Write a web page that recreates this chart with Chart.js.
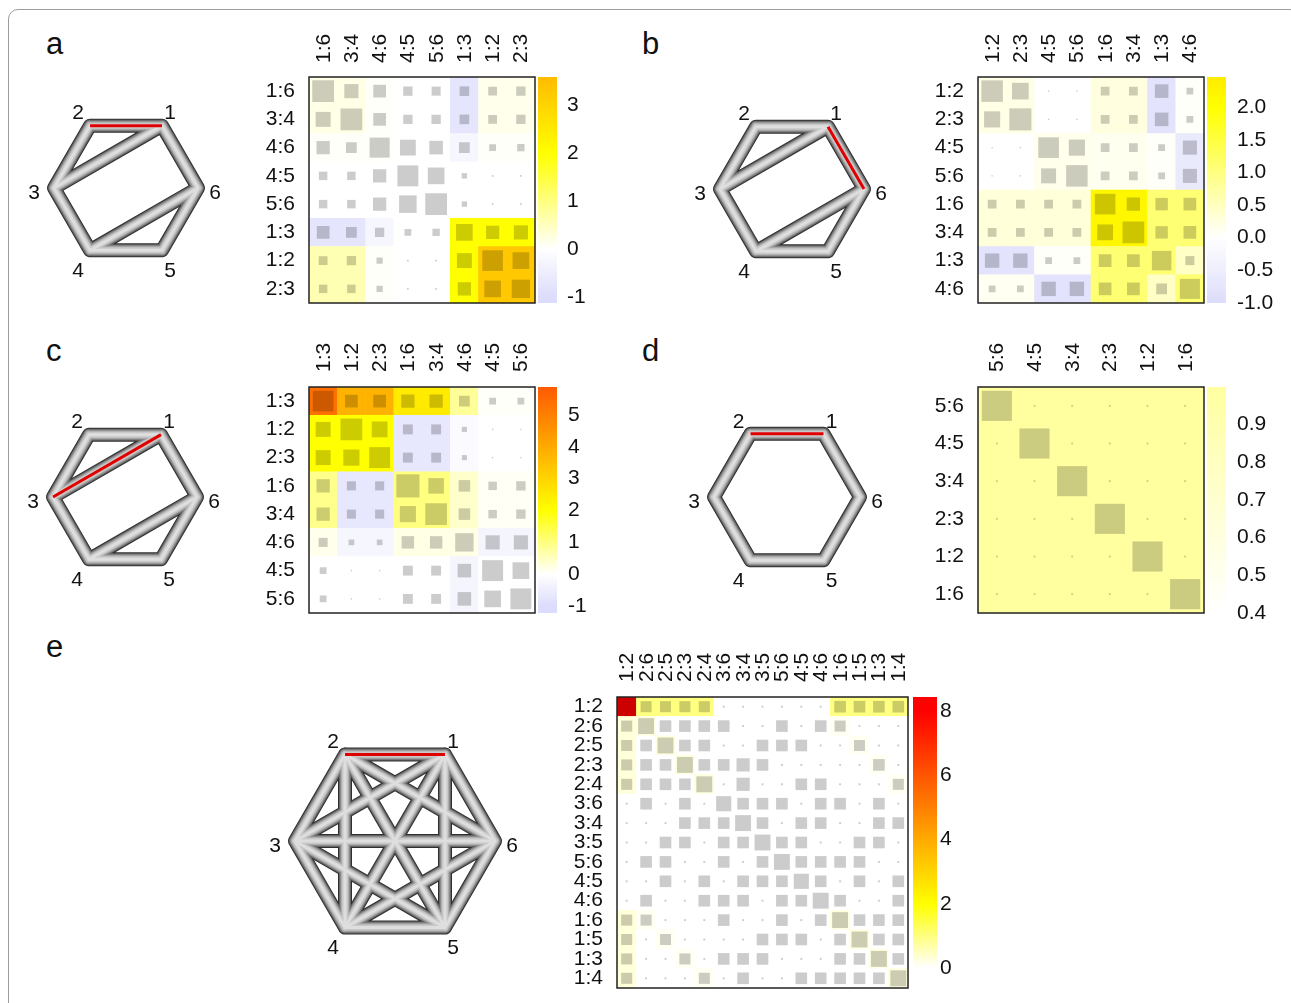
<!DOCTYPE html>
<html>
<head>
<meta charset="utf-8">
<script src="https://cdn.jsdelivr.net/npm/chart.js@4.4.0/dist/chart.umd.min.js"></script>
<style>
body{margin:0;background:#fff;width:1291px;height:1003px;overflow:hidden;position:relative;font-family:"Liberation Sans",Arial,Helvetica,sans-serif;}
.frame{position:absolute;left:8px;top:9px;width:1290px;height:1030px;border:1px solid #9c9c9c;border-radius:10px;}
.tag{position:absolute;font-size:31px;line-height:31px;color:#111;}
canvas{position:absolute;}
</style>
</head>
<body>
<div class="frame"></div>
<div class="tag" style="left:46px;top:28px">a</div>
<div class="tag" style="left:642px;top:28px">b</div>
<div class="tag" style="left:46px;top:335px">c</div>
<div class="tag" style="left:642px;top:335px">d</div>
<div class="tag" style="left:46px;top:631px">e</div>

<canvas id="ga" width="230" height="230" style="left:11px;top:73px"></canvas>
<canvas id="gb" width="230" height="230" style="left:677px;top:74px"></canvas>
<canvas id="gc" width="230" height="230" style="left:10px;top:382px"></canvas>
<canvas id="gd" width="230" height="230" style="left:672px;top:382px"></canvas>
<canvas id="ge" width="290" height="290" style="left:250px;top:696px"></canvas>

<canvas id="ha" width="366" height="314" style="left:249px;top:5px"></canvas>
<canvas id="hb" width="366" height="314" style="left:918px;top:5px"></canvas>
<canvas id="hc" width="366" height="314" style="left:249px;top:315px"></canvas>
<canvas id="hd" width="366" height="314" style="left:918px;top:315px"></canvas>
<canvas id="he" width="431" height="379" style="left:557px;top:625px"></canvas>

<script>
// ---- graph data (hexagon nodes 1..6) ----
const nodeIds = ['1','2','3','4','5','6'];
const nodeX = [0.5, -0.5, -1, -0.5, 0.5, 1];
const nodeY = [0.866, 0.866, 0, -0.866, -0.866, 0];

const edgesABC = [[1,2],[2,3],[3,4],[4,5],[5,6],[6,1],[1,3],[4,6]];
const edgesD = [[1,2],[2,3],[3,4],[4,5],[5,6],[6,1]];
const edgesE = [[1,2],[1,3],[1,4],[1,5],[1,6],[2,3],[2,4],[2,5],[2,6],[3,4],[3,5],[3,6],[4,5],[4,6],[5,6]];

// ---- matrix data ----
const labelsA = ['1:6','3:4','4:6','4:5','5:6','1:3','1:2','2:3'];
const colourA = [
  [0.2, 0.2, 0.05, 0, 0, -0.75, 0.15, 0.15],
  [0.2, 0.2, 0.05, 0, 0, -0.75, 0.15, 0.15],
  [0.05, 0.05, 0.05, 0, 0, -0.25, 0.05, 0.05],
  [0, 0, 0, 0, 0, 0, 0, 0],
  [0, 0, 0, 0, 0, 0, 0, 0],
  [-0.75, -0.75, -0.25, 0, 0, 2.0, 2.0, 2.0],
  [0.6, 0.6, 0.05, 0, 0, 2.0, 3.3, 3.3],
  [0.6, 0.6, 0.05, 0, 0, 2.0, 3.3, 3.3]
];
const sizeA = [
  [0.77, 0.50, 0.45, 0.33, 0.32, 0.34, 0.31, 0.33],
  [0.53, 0.77, 0.45, 0.33, 0.33, 0.34, 0.31, 0.33],
  [0.47, 0.38, 0.71, 0.56, 0.48, 0.38, 0.24, 0.26],
  [0.30, 0.30, 0.47, 0.74, 0.59, 0.19, 0.06, 0.06],
  [0.30, 0.30, 0.47, 0.62, 0.77, 0.19, 0.06, 0.06],
  [0.45, 0.38, 0.33, 0.24, 0.26, 0.59, 0.47, 0.50],
  [0.31, 0.33, 0.22, 0.06, 0.06, 0.53, 0.73, 0.59],
  [0.30, 0.30, 0.22, 0.06, 0.06, 0.47, 0.59, 0.65]
];
const ticksA = [-1, 0, 1, 2, 3];

const labelsB = ['1:2','2:3','4:5','5:6','1:6','3:4','1:3','4:6'];
const colourB = [
  [0.2, 0.2, 0, 0, 0.25, 0.25, -0.8, 0.05],
  [0.2, 0.2, 0, 0, 0.25, 0.25, -0.8, 0.05],
  [0, 0, 0.15, 0.15, 0.12, 0.12, 0.05, -0.6],
  [0, 0, 0.15, 0.15, 0.12, 0.12, 0.05, -0.6],
  [0.3, 0.3, 0.3, 0.3, 2.2, 2.2, 1.1, 1.1],
  [0.3, 0.3, 0.3, 0.3, 2.2, 2.2, 1.1, 1.1],
  [-0.8, -0.8, 0.05, 0.05, 1.1, 1.1, 1.1, 0.45],
  [0.1, 0.1, -0.8, -0.8, 1.1, 1.1, 0.45, 1.1]
];
const sizeB = [
  [0.76, 0.59, 0.05, 0.05, 0.31, 0.31, 0.48, 0.24],
  [0.57, 0.78, 0.05, 0.05, 0.31, 0.31, 0.48, 0.24],
  [0.05, 0.05, 0.73, 0.57, 0.31, 0.31, 0.24, 0.50],
  [0.05, 0.05, 0.53, 0.76, 0.31, 0.31, 0.24, 0.50],
  [0.31, 0.31, 0.31, 0.31, 0.73, 0.47, 0.44, 0.45],
  [0.31, 0.31, 0.31, 0.31, 0.56, 0.77, 0.44, 0.45],
  [0.51, 0.51, 0.24, 0.24, 0.45, 0.45, 0.69, 0.32],
  [0.24, 0.24, 0.51, 0.51, 0.45, 0.45, 0.38, 0.71]
];
const ticksB = [-1, -0.5, 0, 0.5, 1, 1.5, 2];

const labelsC = ['1:3','1:2','2:3','1:6','3:4','4:6','4:5','5:6'];
const colourC = [
  [5.4, 3.8, 3.8, 2.5, 2.5, 0.8, 0.05, 0.05],
  [2.0, 2.0, 2.0, -0.7, -0.7, -0.15, 0, 0],
  [2.0, 2.0, 2.0, -0.7, -0.7, -0.15, 0, 0],
  [0.9, -0.7, -0.7, 1.0, 1.0, 0.4, 0.08, 0.08],
  [0.9, -0.7, -0.7, 1.0, 1.0, 0.4, 0.08, 0.08],
  [0.15, -0.25, -0.25, 0.2, 0.2, 0.2, -0.3, -0.3],
  [0, 0, 0, 0, 0, -0.3, 0, 0],
  [0, 0, 0, 0, 0, -0.3, 0, 0]
];
const sizeC = [
  [0.73, 0.45, 0.45, 0.47, 0.47, 0.38, 0.24, 0.24],
  [0.53, 0.77, 0.56, 0.35, 0.35, 0.18, 0.05, 0.05],
  [0.53, 0.57, 0.74, 0.35, 0.35, 0.18, 0.05, 0.05],
  [0.47, 0.32, 0.32, 0.82, 0.55, 0.41, 0.30, 0.33],
  [0.47, 0.32, 0.32, 0.57, 0.77, 0.41, 0.30, 0.33],
  [0.32, 0.20, 0.20, 0.44, 0.44, 0.65, 0.50, 0.50],
  [0.24, 0.05, 0.05, 0.35, 0.35, 0.48, 0.74, 0.59],
  [0.24, 0.05, 0.05, 0.35, 0.35, 0.48, 0.59, 0.74]
];
const ticksC = [-1, 0, 1, 2, 3, 4, 5];

const labelsD = ['5:6','4:5','3:4','2:3','1:2','1:6'];
const colourD = [
  [1, 1, 1, 1, 1, 1],
  [1, 1, 1, 1, 1, 1],
  [1, 1, 1, 1, 1, 1],
  [1, 1, 1, 1, 1, 1],
  [1, 1, 1, 1, 1, 1],
  [1, 1, 1, 1, 1, 1]
];
const sizeD = [
  [0.80, 0.05, 0.05, 0.05, 0.05, 0.05],
  [0.05, 0.80, 0.05, 0.05, 0.05, 0.05],
  [0.05, 0.05, 0.80, 0.05, 0.05, 0.05],
  [0.05, 0.05, 0.05, 0.80, 0.05, 0.05],
  [0.05, 0.05, 0.05, 0.05, 0.80, 0.05],
  [0.05, 0.05, 0.05, 0.05, 0.05, 0.80]
];
const ticksD = [0.4, 0.5, 0.6, 0.7, 0.8, 0.9];

const labelsE = ['1:2','2:6','2:5','2:3','2:4','3:6','3:4','3:5','5:6','4:5','4:6','1:6','1:5','1:3','1:4'];
const colourE = [
  [8.3, 1, 1, 1, 1, 0, 0, 0, 0, 0, 0, 1, 1, 1, 1],
  [0.3, 0.25, 0, 0, 0, 0, 0, 0, 0, 0, 0, 0.1, 0, 0, 0],
  [0.3, 0, 0.25, 0, 0, 0, 0, 0, 0, 0, 0, 0, 0.1, 0, 0],
  [0.3, 0, 0, 0.25, 0, 0, 0, 0, 0, 0, 0, 0, 0, 0.1, 0],
  [0.3, 0, 0, 0, 0.25, 0, 0, 0, 0, 0, 0, 0, 0, 0, 0.1],
  [0, 0, 0, 0, 0, 0, 0, 0, 0, 0, 0, 0, 0, 0, 0],
  [0, 0, 0, 0, 0, 0, 0, 0, 0, 0, 0, 0, 0, 0, 0],
  [0, 0, 0, 0, 0, 0, 0, 0, 0, 0, 0, 0, 0, 0, 0],
  [0, 0, 0, 0, 0, 0, 0, 0, 0, 0, 0, 0, 0, 0, 0],
  [0, 0, 0, 0, 0, 0, 0, 0, 0, 0, 0, 0, 0, 0, 0],
  [0, 0, 0, 0, 0, 0, 0, 0, 0, 0, 0, 0, 0, 0, 0],
  [0.3, 0.1, 0, 0, 0, 0, 0, 0, 0, 0, 0, 0.25, 0, 0, 0],
  [0.3, 0, 0.1, 0, 0, 0, 0, 0, 0, 0, 0, 0, 0.25, 0, 0],
  [0.3, 0, 0, 0.1, 0, 0, 0, 0, 0, 0, 0, 0, 0, 0.25, 0],
  [0.3, 0, 0, 0, 0.1, 0, 0, 0, 0, 0, 0, 0, 0, 0, 0.25]
];
const sizeE = [
  [0.95, 0.57, 0.57, 0.57, 0.57, 0.1, 0.1, 0.1, 0.1, 0.1, 0.1, 0.6, 0.6, 0.6, 0.6],
  [0.57, 0.82, 0.6, 0.6, 0.6, 0.6, 0.1, 0.1, 0.6, 0.1, 0.6, 0.57, 0.1, 0.1, 0.1],
  [0.57, 0.6, 0.82, 0.6, 0.6, 0.1, 0.1, 0.6, 0.6, 0.6, 0.1, 0.1, 0.57, 0.1, 0.1],
  [0.57, 0.6, 0.6, 0.82, 0.6, 0.6, 0.68, 0.6, 0.1, 0.1, 0.1, 0.1, 0.1, 0.6, 0.1],
  [0.57, 0.6, 0.6, 0.6, 0.82, 0.1, 0.68, 0.1, 0.1, 0.6, 0.6, 0.1, 0.1, 0.1, 0.57],
  [0.1, 0.6, 0.1, 0.6, 0.1, 0.78, 0.6, 0.6, 0.6, 0.1, 0.6, 0.6, 0.1, 0.6, 0.1],
  [0.1, 0.1, 0.1, 0.6, 0.6, 0.6, 0.82, 0.6, 0.1, 0.6, 0.6, 0.1, 0.1, 0.6, 0.6],
  [0.1, 0.1, 0.6, 0.6, 0.1, 0.6, 0.6, 0.82, 0.6, 0.6, 0.1, 0.1, 0.6, 0.6, 0.1],
  [0.1, 0.6, 0.6, 0.1, 0.1, 0.6, 0.1, 0.6, 0.82, 0.6, 0.6, 0.6, 0.6, 0.1, 0.1],
  [0.1, 0.1, 0.6, 0.1, 0.6, 0.1, 0.6, 0.6, 0.6, 0.78, 0.6, 0.1, 0.6, 0.1, 0.6],
  [0.1, 0.6, 0.1, 0.1, 0.6, 0.6, 0.6, 0.1, 0.6, 0.6, 0.82, 0.6, 0.1, 0.1, 0.6],
  [0.57, 0.57, 0.1, 0.1, 0.1, 0.6, 0.1, 0.1, 0.6, 0.1, 0.6, 0.82, 0.6, 0.6, 0.6],
  [0.57, 0.1, 0.57, 0.1, 0.1, 0.1, 0.1, 0.6, 0.6, 0.6, 0.1, 0.6, 0.82, 0.6, 0.6],
  [0.57, 0.1, 0.1, 0.57, 0.1, 0.6, 0.6, 0.6, 0.1, 0.1, 0.1, 0.6, 0.6, 0.82, 0.6],
  [0.57, 0.1, 0.1, 0.1, 0.57, 0.1, 0.6, 0.1, 0.1, 0.6, 0.6, 0.6, 0.6, 0.6, 0.82]
];
const ticksE = [0, 2, 4, 6, 8];

// colour scales: [value, [r,g,b]]
const stopsMain = [[-1, [220,220,252]], [0, [255,255,255]], [2, [255,255,0]], [8, [255,0,0]]];
const stopsD = [[0.4, [255,255,255]], [1.0, [255,255,160]]];
const stopsE = [[0, [255,255,255]], [2, [255,255,0]], [8, [255,0,0]]];

Chart.defaults.font.family = '"Liberation Sans", Arial, Helvetica, sans-serif';
Chart.defaults.color = '#111';
Chart.defaults.animation = false;

function colourAt(stops, v){
  if(v <= stops[0][0]) return stops[0][1];
  for(let i=1;i<stops.length;i++){
    if(v <= stops[i][0]){
      const [v0,c0] = stops[i-1], [v1,c1] = stops[i];
      const t = (v-v0)/(v1-v0);
      return c0.map((a,k)=>a + (c1[k]-a)*t);
    }
  }
  return stops[stops.length-1][1];
}
function rgb(c, k){
  return `rgb(${Math.round(c[0]*k)},${Math.round(c[1]*k)},${Math.round(c[2]*k)})`;
}

// colour bar + box outline, drawn from the chart's own scales
function matrixDecor(bar){
  return {
    id:'matrixDecor',
    beforeDatasetsDraw(chart){
      const {ctx, chartArea:a, scales:{c}} = chart;
      const top = c.getPixelForValue(c.max), bot = c.getPixelForValue(c.min);
      const g = ctx.createLinearGradient(0, top, 0, bot);
      g.addColorStop(0, rgb(colourAt(bar.stops, c.max),1));
      bar.stops.forEach(([v,col])=>{
        const t = (c.getPixelForValue(v)-top)/(bot-top);
        if(t>0 && t<1) g.addColorStop(t, rgb(col,1));
      });
      g.addColorStop(1, rgb(colourAt(bar.stops, c.min),1));
      ctx.save();
      ctx.fillStyle = g;
      ctx.fillRect(a.right + bar.gap, top, bar.width, bot-top);
      ctx.restore();
    },
    afterDatasetsDraw(chart){
      const {ctx, chartArea:a} = chart;
      ctx.save();
      ctx.strokeStyle = '#222';
      ctx.lineWidth = 1.5;
      ctx.strokeRect(a.left, a.top, a.right-a.left, a.bottom-a.top);
      ctx.restore();
    }
  };
}

function heatmap(id, labels, colours, sizes, bar){
  const n = labels.length;
  const cells = [], squares = [];
  for(let r=0;r<n;r++){
    for(let c=0;c<n;c++){
      cells.push({x:c+0.5, y:r+0.5, v:colours[r][c]});
      squares.push({x:c+0.5, y:r+0.5, v:colours[r][c], s:sizes[r][c]});
    }
  }
  const cellPx = (chart)=> chart.scales.x.getPixelForValue(1) - chart.scales.x.getPixelForValue(0);
  const catTicks = (scale)=>{ scale.ticks = labels.map((_,i)=>({value:i+0.5})); };
  new Chart(document.getElementById(id), {
    type:'scatter',
    data:{datasets:[
      { data:squares, order:0, pointStyle:'rect', pointBorderWidth:0,
        pointRadius:(ctx)=> ctx.raw ? cellPx(ctx.chart)*ctx.raw.s/Math.SQRT2 : 0,
        pointBackgroundColor:(ctx)=> ctx.raw ? rgb(colourAt(bar.stops, ctx.raw.v), 0.8) : '#ccc' },
      { data:cells, order:1, pointStyle:'rect', pointBorderWidth:0,
        pointRadius:(ctx)=> ctx.raw ? (cellPx(ctx.chart)+0.6)/Math.SQRT2 : 0,
        pointBackgroundColor:(ctx)=> ctx.raw ? rgb(colourAt(bar.stops, ctx.raw.v), 1) : '#fff' }
    ]},
    options:{
      responsive:false, events:[],
      layout:{padding:{bottom:16}},
      plugins:{legend:{display:false}, tooltip:{enabled:false}},
      scales:{
        x:{ type:'linear', position:'top', min:0, max:n,
            grid:{display:false, drawTicks:false}, border:{display:false},
            afterBuildTicks:catTicks,
            afterFit:(s)=>{ s.height = 72; s.paddingLeft = 0; s.paddingRight = 0; },
            ticks:{autoSkip:false, minRotation:90, maxRotation:90, padding:bar.colPad, color:'#111',
                   labelOffset:bar.shift, font:{size:bar.font}, callback:(v)=>labels[Math.floor(v)]} },
        y:{ type:'linear', position:'left', reverse:true, min:0, max:n,
            grid:{display:false, drawTicks:false}, border:{display:false},
            afterBuildTicks:catTicks,
            afterFit:(s)=>{ s.width = 60; s.paddingTop = 0; s.paddingBottom = 0; },
            ticks:{autoSkip:false, padding:14, color:'#111',
                   font:{size:bar.font}, callback:(v)=>labels[Math.floor(v)]} },
        c:{ type:'linear', axis:'y', position:'right', min:bar.min, max:bar.max,
            grid:{display:false, drawTicks:false}, border:{display:false},
            afterBuildTicks:(s)=>{ s.ticks = bar.ticks.map(v=>({value:v})); },
            afterFit:(s)=>{ s.width = 80; s.paddingTop = 0; s.paddingBottom = 0; },
            ticks:{autoSkip:false, padding:bar.pad, color:'#111', font:{size:21},
                   callback:(v)=>v.toFixed(bar.dec)} }
      }
    },
    plugins:[matrixDecor(bar)]
  });
}

// ---- tube-style graph drawings ----
const tubeWidths = [14, 12, 10, 8, 6, 3];
const tubeColours = ['#2e2e2e','#666666','#8c8c8c','#adadad','#c8c8c8','#dedede'];
const labelDX = [8, -12, -20, -12, 8, 17];
const labelDY = [-12, -12, 5, 21, 21, 5];

function nodeLabels(){
  return {
    id:'nodeLabels',
    afterDatasetsDraw(chart){
      const {ctx, scales:{x,y}} = chart;
      ctx.save();
      ctx.fillStyle = '#111';
      ctx.font = '21px "Liberation Sans", Arial, sans-serif';
      ctx.textAlign = 'center';
      ctx.textBaseline = 'middle';
      nodeIds.forEach((id,i)=>{
        ctx.fillText(id, x.getPixelForValue(nodeX[i]) + labelDX[i], y.getPixelForValue(nodeY[i]) + labelDY[i]);
      });
      ctx.restore();
    }
  };
}

function graph(id, edges, red, range){
  const pt = (k)=>({x:nodeX[k-1], y:nodeY[k-1]});
  const path = [];
  edges.forEach(([a,b])=>{ path.push(pt(a), pt(b), {x:null, y:null}); });
  const datasets = tubeWidths.map((w,i)=>({
    data:path, showLine:true, spanGaps:false, pointRadius:0, tension:0,
    borderWidth:w, borderColor:tubeColours[i], borderCapStyle:'round', borderJoinStyle:'round',
    order:20-i
  }));
  datasets.push({
    data:[pt(red[0]), pt(red[1])], showLine:true, pointRadius:0, tension:0,
    borderWidth:3, borderColor:'#e00000', borderCapStyle:'butt', order:0
  });
  new Chart(document.getElementById(id), {
    type:'scatter',
    data:{datasets},
    options:{
      responsive:false, events:[],
      layout:{padding:0},
      plugins:{legend:{display:false}, tooltip:{enabled:false}},
      scales:{
        x:{type:'linear', display:false, min:-range, max:range},
        y:{type:'linear', display:false, min:-range, max:range}
      }
    },
    plugins:[nodeLabels()]
  });
}

graph('ga', edgesABC, [1,2], 115/72);
graph('gb', edgesABC, [1,6], 115/72);
graph('gc', edgesABC, [1,3], 115/72);
graph('gd', edgesD, [1,2], 115/73);
graph('ge', edgesE, [1,2], 145/100);

heatmap('ha', labelsA, colourA, sizeA, {stops:stopsMain, min:-1.13, max:3.6, ticks:ticksA, dec:0, gap:3, width:19, pad:32, colPad:14, font:21, shift:26});
heatmap('hb', labelsB, colourB, sizeB, {stops:stopsMain, min:-1.0, max:2.46, ticks:ticksB, dec:1, gap:3, width:19, pad:33, colPad:14, font:21, shift:26});
heatmap('hc', labelsC, colourC, sizeC, {stops:stopsMain, min:-1.22, max:5.88, ticks:ticksC, dec:0, gap:3, width:19, pad:33, colPad:15, font:21, shift:26});
heatmap('hd', labelsD, colourD, sizeD, {stops:stopsD, min:0.4, max:1.0, ticks:ticksD, dec:1, gap:3, width:19, pad:33, colPad:15, font:21, shift:26});
heatmap('he', labelsE, colourE, sizeE, {stops:stopsE, min:-0.62, max:8.44, ticks:ticksE, dec:0, gap:5, width:24, pad:32, colPad:15, font:21, shift:26});
</script>
</body>
</html>
